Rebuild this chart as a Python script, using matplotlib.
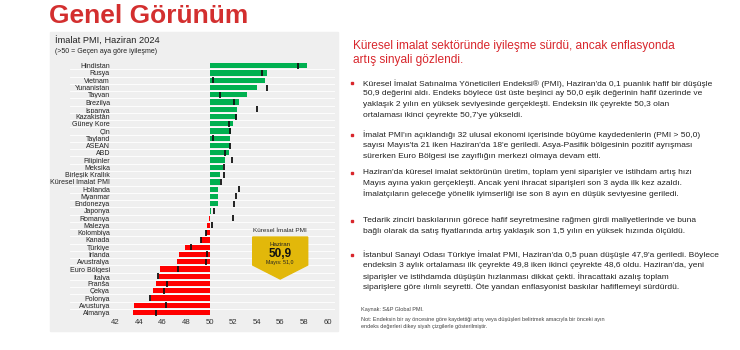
import matplotlib
matplotlib.use('Agg')
import matplotlib.pyplot as plt
from matplotlib.patches import Rectangle, Polygon

# veriler
ulkeler = ['Hindistan', 'Rusya', 'Vietnam', 'Yunanistan', 'Tayvan', 'Brezilya',
           'İspanya', 'Kazakistan', 'Güney Kore', 'Çin', 'Tayland', 'ASEAN', 'ABD',
           'Filipinler', 'Meksika', 'Birleşik Krallık', 'Küresel İmalat PMI',
           'Hollanda', 'Myanmar', 'Endonezya', 'Japonya', 'Romanya', 'Malezya',
           'Kolombiya', 'Kanada', 'Türkiye', 'İrlanda', 'Avustralya', 'Euro Bölgesi',
           'İtalya', 'Fransa', 'Çekya', 'Polonya', 'Avusturya', 'Almanya']
haziran = [58.3, 54.9, 54.7, 54.0, 53.2, 52.5, 52.3, 52.3, 52.0, 51.8, 51.7, 51.7,
           51.6, 51.3, 51.1, 50.9, 50.9, 50.7, 50.7, 50.7, 50.1, 49.9, 49.8, 49.7,
           49.3, 47.9, 47.4, 47.2, 45.8, 45.7, 45.4, 45.2, 45.0, 43.6, 43.5]
mayis = [57.5, 54.4, 50.3, 54.9, 50.9, 52.1, 54.0, 52.2, 51.6, 51.7, 50.3, 51.7,
         51.3, 51.9, 51.2, 51.2, 51.0, 52.5, 52.2, 52.1, 50.4, 52.0, 50.2, 49.7,
         49.3, 48.4, 49.8, 49.7, 47.3, 45.6, 46.4, 46.1, 44.9, 46.3, 45.4]
x_ticks = [42, 44, 46, 48, 50, 52, 54, 56, 58, 60]

baslik = 'Genel Görünüm'
grafik_baslik = 'İmalat PMI, Haziran 2024'
grafik_alt = '(>50 = Geçen aya göre iyileşme)'
manset = ['Küresel imalat sektöründe iyileşme sürdü, ancak enflasyonda',
          'artış sinyali gözlendi.']
maddeler = [
    ['Küresel İmalat Satınalma Yöneticileri Endeksi® (PMI), Haziran\'da 0,1 puanlık hafif bir düşüşle',
     '50,9 değerini aldı. Endeks böylece üst üste beşinci ay 50,0 eşik değerinin hafif üzerinde ve',
     'yaklaşık 2 yılın en yüksek seviyesinde gerçekleşti. Endeksin ilk çeyrekte 50,3 olan',
     'ortalaması ikinci çeyrekte 50,7\'ye yükseldi.'],
    ['İmalat PMI\'ın açıklandığı 32 ulusal ekonomi içerisinde büyüme kaydedenlerin (PMI > 50,0)',
     'sayısı Mayıs\'ta 21 iken Haziran\'da 18\'e geriledi. Asya-Pasifik bölgesinin pozitif ayrışması',
     'sürerken Euro Bölgesi ise zayıflığın merkezi olmaya devam etti.'],
    ['Haziran\'da küresel imalat sektörünün üretim, toplam yeni siparişler ve istihdam artış hızı',
     'Mayıs ayına yakın gerçekleşti. Ancak yeni ihracat siparişleri son 3 ayda ilk kez azaldı.',
     'İmalatçıların geleceğe yönelik iyimserliği ise son 8 ayın en düşük seviyesine geriledi.'],
    ['Tedarik zinciri baskılarının görece hafif seyretmesine rağmen girdi maliyetlerinde ve buna',
     'bağlı olarak da satış fiyatlarında artış yaklaşık son 1,5 yılın en yüksek hızında ölçüldü.'],
    ['İstanbul Sanayi Odası Türkiye İmalat PMI, Haziran\'da 0,5 puan düşüşle 47,9\'a geriledi. Böylece',
     'endeksin 3 aylık ortalaması ilk çeyrekte 49,8 iken ikinci çeyrekte 48,6 oldu. Haziran\'da, yeni',
     'siparişler ve istihdamda düşüşün hızlanması dikkat çekti. İhracattaki azalış toplam',
     'siparişlere göre ılımlı seyretti. Öte yandan enflasyonist baskılar hafiflemeyi sürdürdü.'],
]
madde_y = [83.3, 135.0, 172.7, 220.7, 255.0]
kaynak = 'Kaynak: S&P Global PMI.'
notlar = ['Not: Endeksin bir ay öncesine göre kaydettiği artış veya düşüşleri belirtmek amacıyla bir önceki ayın',
          'endeks değerleri dikey siyah çizgilerle gösterilmiştir.']

plt.rcParams['font.family'] = ['Liberation Sans', 'DejaVu Sans']

W, H = 740, 350
fig = plt.figure(figsize=(7.4, 3.5), dpi=100)


def fx(px):
    return px / W


def fy(py):
    return 1 - py / H


# gri panel
fig.patches.append(Rectangle((fx(50), fy(331)), 288 / W, (331 - 32) / H,
                             transform=fig.transFigure, color='#efefef', zorder=-1))

fig.text(fx(49), fy(23.3), baslik, color='#d32f2f', fontsize=19.0,
         fontweight='bold', va='baseline')
fig.text(fx(55), fy(44.3), grafik_baslik, color='#222222', fontsize=6.7, va='baseline')
fig.text(fx(55), fy(53.3), grafik_alt, color='#222222', fontsize=5.0, va='baseline')

# grafik
ax = fig.add_axes([fx(70), fy(316.2), (335 - 70) / W, (316.2 - 62.1) / H])
ax.set_facecolor('none')
y = list(range(len(ulkeler)))
renkler = []
for v in haziran:
    if abs(v - 50) <= 0.1:
        renkler.append('#a8dcb9' if v >= 50 else '#f7c3c3')
    else:
        renkler.append('#00b050' if v >= 50 else '#ff0000')
ax.barh(y, [v - 50 for v in haziran], left=50, height=0.72, color=renkler, zorder=2)
ax.plot(mayis, y, ls='none', marker='|', ms=4.8, mew=1.3, color='#111111', zorder=3)

ax.set_xlim(50 - (209.7 - 70) / 11.78, 50 + (335 - 209.7) / 11.78)
ax.set_ylim(len(ulkeler) - 0.5, -0.5)
ax.set_xticks(x_ticks)
ax.set_yticks(y, ulkeler)
ax.set_yticks([i + 0.5 for i in range(len(ulkeler) - 1)], minor=True)
ax.grid(which='minor', axis='y', color='white', lw=0.6, zorder=1)
ax.tick_params(axis='y', which='both', length=0, pad=-28.8, labelsize=5.0, labelcolor='#222222')
ax.tick_params(axis='x', length=0, pad=2, labelsize=5.6, labelcolor='#333333')
for s in ax.spines.values():
    s.set_visible(False)


# kuresel PMI kutusu
def row(py):
    return (py - 65.7) / 7.26


def dx(px):
    return 50 + (px - 209.7) / 11.78


kutu = Polygon([(dx(252.7), row(237)), (dx(307.7), row(237)), (dx(307.7), row(265)),
                (dx(280.2), row(279)), (dx(252.7), row(265))],
               closed=True, color='#e2b80a', zorder=4, clip_on=False)
ax.add_patch(kutu)
ax.text(dx(280.2), row(230), 'Küresel İmalat PMI', ha='center', va='center',
        fontsize=4.6, color='#222222', zorder=5)
ax.text(dx(280.2), row(244.5), 'Haziran', ha='center', va='center',
        fontsize=4.4, color='#222222', zorder=5)
ax.text(dx(280.2), row(253.5), '50,9', ha='center', va='center',
        fontsize=8.5, fontweight='bold', color='#111111', zorder=5)
ax.text(dx(280.2), row(262.5), 'Mayıs: 51,0', ha='center', va='center',
        fontsize=3.8, color='#222222', zorder=5)

# sag taraf metinleri
for i, satir in enumerate(manset):
    fig.text(fx(353), fy(46 + i * 14.3), satir, color='#d8262c', fontsize=8.6, va='center')

for bas, satirlar in zip(madde_y, maddeler):
    fig.patches.append(Rectangle((fx(350.5), fy(bas + 1.0)), 2.0 / W, 2.0 / H,
                                 transform=fig.transFigure, color='#d8262c'))
    for j, satir in enumerate(satirlar):
        fig.text(fx(363), fy(bas + j * 10.6), satir, color='#222222',
                 fontsize=6.0, va='center')

fig.text(fx(361), fy(310), kaynak, color='#444444', fontsize=4.0, va='center')
for j, satir in enumerate(notlar):
    fig.text(fx(361), fy(320 + j * 6.7), satir, color='#444444', fontsize=4.0, va='center')

fig.savefig('out.png', dpi=100)
